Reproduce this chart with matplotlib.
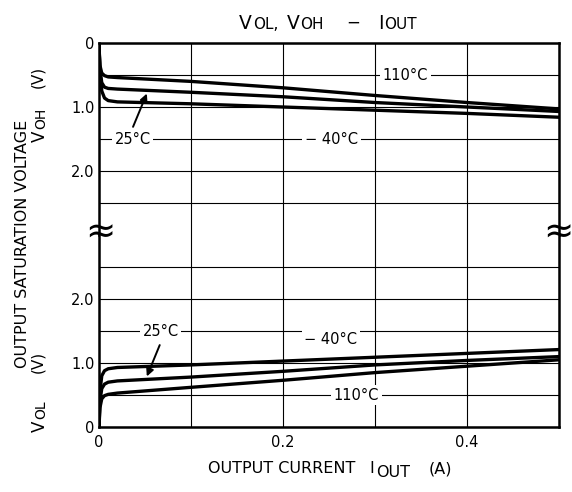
import matplotlib
matplotlib.use("Agg")
import matplotlib.pyplot as plt

plt.rcParams['font.family'] = ['DejaVu Sans']

# ---- data ----
iout = [0, 0.001, 0.003, 0.006, 0.01, 0.02, 0.1, 0.2, 0.3, 0.4, 0.5]
voh_110 = [0.05, 0.35, 0.47, 0.51, 0.53, 0.54, 0.60, 0.70, 0.82, 0.93, 1.03]
voh_25 = [0.05, 0.40, 0.62, 0.69, 0.71, 0.72, 0.77, 0.84, 0.93, 1.00, 1.07]
voh_m40 = [0.05, 0.45, 0.75, 0.86, 0.90, 0.92, 0.95, 1.00, 1.05, 1.10, 1.16]

vol_110 = [0.0, 0.30, 0.44, 0.49, 0.51, 0.53, 0.62, 0.73, 0.85, 0.95, 1.05]
vol_25 = [0.0, 0.40, 0.60, 0.67, 0.70, 0.72, 0.78, 0.87, 0.97, 1.04, 1.10]
vol_m40 = [0.0, 0.55, 0.80, 0.88, 0.91, 0.93, 0.97, 1.03, 1.09, 1.15, 1.21]

v_ticks = [0, 0.5, 1.0, 1.5, 2.0, 2.5]
v_ticklabels = ['0', '', '1.0', '', '2.0', '']
x_ticks = [0, 0.1, 0.2, 0.3, 0.4, 0.5]
x_ticklabels = ['0', '', '0.2', '', '0.4', '']

W, H = 572, 492
fig = plt.figure(figsize=(W / 100, H / 100), dpi=100)

L, R = 99, 559
T, M, B = 43, 235, 427
ax_top = fig.add_axes([L / W, 1 - M / H, (R - L) / W, (M - T) / H])
ax_bot = fig.add_axes([L / W, 1 - B / H, (R - L) / W, (B - M) / H])

for ax in (ax_top, ax_bot):
    ax.set_xlim(0, 0.5)
    ax.set_xticks(x_ticks)
    ax.set_yticks(v_ticks)
    ax.set_yticklabels(v_ticklabels)
    ax.grid(True, color='black', lw=0.8)
    ax.set_axisbelow(True)
    ax.tick_params(length=0, labelsize=10.5, pad=3)
    for s in ax.spines.values():
        s.set_linewidth(1.8)

ax_top.set_ylim(3.0, 0)
ax_top.spines['bottom'].set_visible(False)
ax_top.tick_params(labelbottom=False)
ax_bot.set_ylim(0, 3.0)
ax_bot.spines['top'].set_visible(False)
ax_bot.set_xticklabels(x_ticklabels)
ax_bot.tick_params(axis='x', pad=6)

lw = 2.4
for ys in (voh_110, voh_25, voh_m40):
    ax_top.plot(iout, ys, color='black', lw=lw, solid_joinstyle='round')
for ys in (vol_110, vol_25, vol_m40):
    ax_bot.plot(iout, ys, color='black', lw=lw, solid_joinstyle='round')

box = dict(fc='white', ec='none', pad=2.0)
fs = 10.5
ax_top.text(0.333, 0.5, '110°C', ha='center', va='center', fontsize=fs, bbox=box)
ax_top.text(0.253, 1.5, '\u2212 40°C', ha='center', va='center', fontsize=fs, bbox=box)
ax_top.text(0.0365, 1.5, '25°C', ha='center', va='center', fontsize=fs, bbox=box)
ax_top.annotate('', xy=(0.052, 0.79), xytext=(0.037, 1.31),
                arrowprops=dict(arrowstyle='-|>', color='black', lw=1.4,
                                mutation_scale=11, shrinkA=0, shrinkB=0))

ax_bot.text(0.280, 0.5, '110°C', ha='center', va='center', fontsize=fs, bbox=box)
ax_bot.text(0.252, 1.36, '\u2212 40°C', ha='center', va='center', fontsize=fs, bbox=box)
ax_bot.text(0.067, 1.5, '25°C', ha='center', va='center', fontsize=fs, bbox=box)
ax_bot.annotate('', xy=(0.052, 0.79), xytext=(0.066, 1.28),
                arrowprops=dict(arrowstyle='-|>', color='black', lw=1.4,
                                mutation_scale=11, shrinkA=0, shrinkB=0))

# break marks
for xp in (100, 558):
    fig.text(xp / W, 1 - 233 / H, '\u2248', ha='center', va='center', fontsize=26)

renderer = fig.canvas.get_renderer()


def place_seq(pieces, x_px, y_px, rotation=0):
    """pieces: (text, size, gap_before_px, dy_px); x_px,y_px = centre / baseline."""
    texts, widths = [], []
    for s, size, gap, dy in pieces:
        t = fig.text(0, 0, s, fontsize=size, ha='left', va='baseline',
                     rotation_mode='anchor')
        texts.append(t)
        widths.append(t.get_window_extent(renderer).width)
    total = sum(widths) + sum(p[2] for p in pieces)
    if rotation == 0:
        x = x_px - total / 2
        for t, w, (s, size, gap, dy) in zip(texts, widths, pieces):
            x += gap
            t.set_position((x / W, 1 - (y_px + dy) / H))
            x += w
    else:
        y = y_px + total / 2
        for t, w, (s, size, gap, dy) in zip(texts, widths, pieces):
            y -= gap
            t.set_rotation(90)
            t.set_position(((x_px + dy) / W, 1 - y / H))
            y -= w


# title
place_seq([('V', 13.5, 0, 0), ('OL,', 11, 1, 0), ('V', 13.5, 8, 0), ('OH', 11, 1, 0),
           ('\u2212', 12, 22, -1), ('I', 13.5, 18, 0), ('OUT', 11, 1, 0)], 328, 29)

# x label
place_seq([('OUTPUT CURRENT', 11.5, 0, 0), ('I', 11.5, 14, 0), ('OUT', 11.5, 2, 4),
           ('(A)', 11.5, 18, 0)], 330, 473)

# y labels
place_seq([('OUTPUT SATURATION VOLTAGE', 11.5, 0, 0)], 27, 244, rotation=90)
place_seq([('(V)', 11, 0, 0)], 42, 77, rotation=90)
place_seq([('(V)', 11, 0, 0)], 42, 362, rotation=90)
place_seq([('V', 12, 0, 0), ('OH', 10, 1, 0)], 45, 125, rotation=90)
place_seq([('V', 12, 0, 0), ('OL', 10, 1, 0)], 45, 416, rotation=90)

fig.savefig('out.png', dpi=100, facecolor='white')
